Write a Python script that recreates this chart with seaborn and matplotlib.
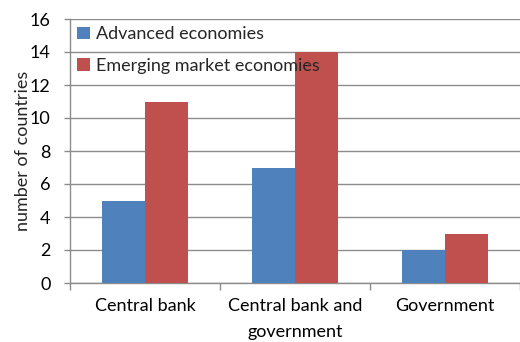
import matplotlib
matplotlib.use("Agg")
import matplotlib.pyplot as plt
import seaborn as sns
import pandas as pd
from matplotlib.ticker import FixedLocator

categories = ["Central bank", "Central bank and\ngovernment", "Government"]
series_names = ["Advanced economies", "Emerging market economies"]
advanced = [5, 7, 2]
emerging = [11, 14, 3]
y_ticks = [0, 2, 4, 6, 8, 10, 12, 14, 16]

df = pd.DataFrame({
    "category": categories * 2,
    "group": [series_names[0]] * 3 + [series_names[1]] * 3,
    "count": advanced + emerging,
})

sns.set_theme(style="white")
plt.rcParams["font.family"] = ["Lato", "DejaVu Sans"]

FS = 13

fig = plt.figure(figsize=(5.2, 3.42), dpi=100)
ax = fig.add_axes([70 / 520, 1 - 283 / 342, 450 / 520, 264 / 342])

sns.barplot(data=df, x="category", y="count", hue="group",
            order=categories, hue_order=series_names,
            palette=["#4F81BD", "#C0504D"], width=0.573, gap=0,
            saturation=1, linewidth=0, ax=ax, zorder=3)

ax.set_xlim(-0.5, 2.5)
ax.set_ylim(0, 16)
ax.set_yticks(y_ticks)
ax.yaxis.grid(True, color="#8c8c8c", linewidth=1.0, zorder=0)
ax.set_axisbelow(True)

for side in ["top", "right"]:
    ax.spines[side].set_visible(False)
for side in ["left", "bottom"]:
    ax.spines[side].set_color("#8c8c8c")
    ax.spines[side].set_linewidth(1.0)

ax.tick_params(axis="y", which="major", left=True, length=4, width=1,
               color="#8c8c8c", pad=10, labelsize=FS, labelcolor="black")
ax.tick_params(axis="x", which="major", bottom=False, length=0, pad=11,
               labelsize=FS, labelcolor="black")
for lbl in ax.get_xticklabels():
    lbl.set_linespacing(1.75)
ax.xaxis.set_minor_locator(FixedLocator([-0.5, 0.5, 1.5, 2.5]))
ax.tick_params(axis="x", which="minor", bottom=True, length=5, width=1,
               color="#8c8c8c")

ax.set_xlabel("")
ax.set_ylabel("number of countries", fontsize=FS, labelpad=-1)

leg = ax.legend(loc="upper left", frameon=False, fontsize=FS,
                handlelength=0.7, handleheight=0.7, handletextpad=0.35,
                labelspacing=0.85, borderaxespad=0.2, borderpad=0.2)
leg.set_zorder(5)

fig.savefig("out.png", dpi=100)
